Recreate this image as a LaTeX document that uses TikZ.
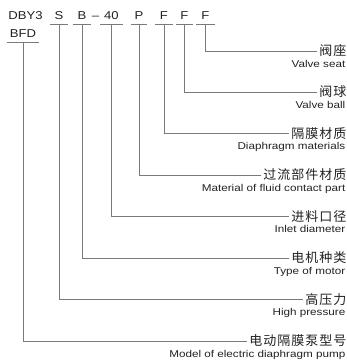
\documentclass[tikz,border=0pt]{standalone}
\usepackage{fontspec}
\setmainfont{Liberation Sans}[FakeStretch=1.15]
\newfontfamily\latw{Liberation Sans}[FakeStretch=1.18]
\newfontfamily\cjk{Noto Sans CJK SC}[LetterSpace=7.5]
\definecolor{txt}{HTML}{222222}
\definecolor{lnc}{HTML}{7A7A7A}
\tikzset{
  code/.style={font=\fontsize{11.4}{13}\selectfont, text=txt, inner sep=0pt, anchor=base, text depth=0pt},
  ucode/.style={code, minimum width=#1, inner ysep=4pt},
  cn/.style={font=\cjk\fontsize{13}{15}\selectfont, text=txt, anchor=east, inner sep=0pt},
  en/.style={font=\latw\fontsize{9.9}{11}\selectfont, text=txt, anchor=base east, inner sep=0pt},
  ln/.style={draw=lnc, line width=0.8pt},
}
\begin{document}
\begin{tikzpicture}[x=1pt, y=-1pt]
\useasboundingbox (0,0) rectangle (347,361);
% codes
\node[code] (dby) at (25.5,20) {DBY3};
\node[ucode=17pt] (cS) at (59,20) {S};
\node[ucode=17pt] (cB) at (82,20) {B};
\node[code] (dash) at (95.5,20) {–};
\node[ucode=22pt] (c40) at (111.5,20) {40};
\node[ucode=16pt] (cP) at (139,20) {P};
\node[ucode=18pt] (cF1) at (164,20) {F};
\node[ucode=17pt] (cF2) at (184.5,20) {F};
\node[ucode=18pt] (cF3) at (205.5,20) {F};
\node[code, minimum width=31pt, inner ysep=5pt] (cBFD) at (23,37.5) {BFD};
\foreach \n in {cS,cB,c40,cP,cF1,cF2,cF3,cBFD}
  \draw[ln] (\n.south west) -- (\n.south east);
% labels
\node[cn] (z1) at (346.5,51) {阀座};
\node[en] (e1) at (345.5,67) {Valve seat};
\node[cn] (z2) at (346.5,92) {阀球};
\node[en] (e2) at (345.5,108) {Valve ball};
\node[cn] (z3) at (346.5,133.5) {隔膜材质};
\node[en] (e3) at (345.5,149.5) {Diaphragm materials};
\node[cn] (z4) at (346.5,175) {过流部件材质};
\node[en] (e4) at (345.5,191) {Material of fluid contact part};
\node[cn] (z5) at (346.5,216.5) {进料口径};
\node[en] (e5) at (345.5,232.5) {Inlet diameter};
\node[cn] (z6) at (346.5,258) {电机种类};
\node[en] (e6) at (345.5,274) {Type of motor};
\node[cn] (z7) at (346.5,299.5) {高压力};
\node[en] (e7) at (345.5,315.5) {High pressure};
\node[cn] (z8) at (346.5,341) {电动隔膜泵型号};
\node[en] (e8) at (345.5,357.5) {Model of electric diaphragm pump};
% connectors
\draw[ln] (cF3.south) |- ([xshift=-2pt]z1.west);
\draw[ln] (cF2.south) |- ([xshift=-2pt]z2.west);
\draw[ln] (cF1.south) |- ([xshift=-2pt]z3.west);
\draw[ln] (cP.south) |- ([xshift=-2pt]z4.west);
\draw[ln] (c40.south) |- ([xshift=-2pt]z5.west);
\draw[ln] (cB.south) |- ([xshift=-2pt]z6.west);
\draw[ln] (cS.south) |- ([xshift=-2pt]z7.west);
\draw[ln] (cBFD.south) |- ([xshift=-2pt]z8.west);
\end{tikzpicture}
\end{document}
